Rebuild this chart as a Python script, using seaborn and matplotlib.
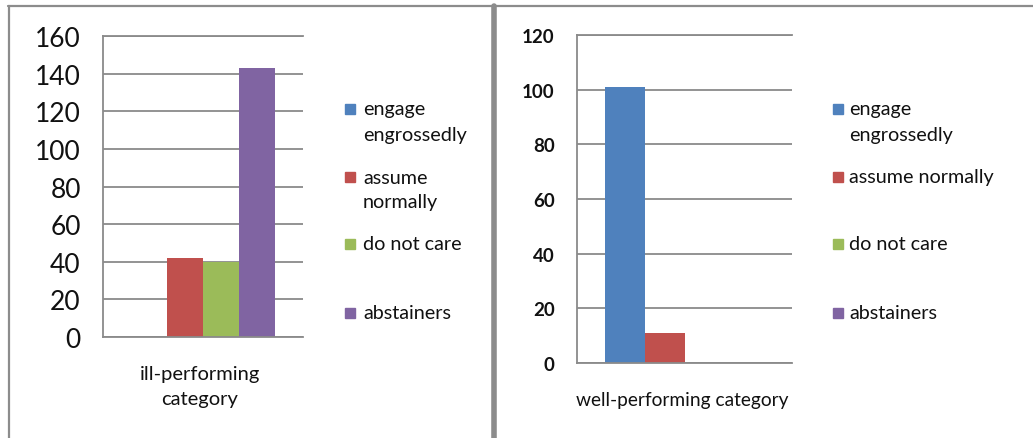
# Two Excel-style bar charts: ill-performing vs well-performing category
import pandas as pd
import matplotlib.pyplot as plt
import seaborn as sns
from matplotlib.patches import Rectangle
from matplotlib.lines import Line2D

# ==========================================================
# Data
# ==========================================================

responses = ['engage engrossedly', 'assume normally', 'do not care', 'abstainers']
colors = ['#4F81BD', '#C0504D', '#9BBB59', '#8064A2']

ill_counts = [0, 42, 40, 143]
well_counts = [101, 11, 0, 0]

ill_ticks = [0, 20, 40, 60, 80, 100, 120, 140, 160]
well_ticks = [0, 20, 40, 60, 80, 100, 120]

ill_category = ['ill-performing', 'category']
well_category = ['well-performing category']

ill_legend = [['engage', 'engrossedly'], ['assume', 'normally'], ['do not care'], ['abstainers']]
well_legend = [['engage', 'engrossedly'], ['assume normally'], ['do not care'], ['abstainers']]

# ==========================================================
# Style
# ==========================================================

sns.set_style('white')
plt.rcParams['font.family'] = ['Lato', 'DejaVu Sans']

W, H = 1033, 439
GRID = '#8a8a8a'
TEXT = '#111111'

fig = plt.figure(figsize=(W / 100, H / 100), dpi=100)


def px(x, y):
    # pixel position (from top-left) -> figure fraction
    return x / W, 1 - y / H


def axes_box(x0, y0, x1, y1):
    return [x0 / W, 1 - y1 / H, (x1 - x0) / W, (y1 - y0) / H]


def draw_panel(rect, counts, ticks, width, tick_size, tick_weight, tick_pad):
    ax = fig.add_axes(rect)
    df = pd.DataFrame({'category': ['c'] * len(responses),
                       'response': responses,
                       'count': counts})
    sns.barplot(data=df, x='category', y='count', hue='response',
                hue_order=responses, palette=colors, saturation=1,
                width=width, ax=ax, legend=False, linewidth=0)
    ax.set_xlim(-0.5, 0.5)
    ax.set_ylim(ticks[0], ticks[-1])
    ax.set_yticks(ticks)
    ax.set_xticks([-0.5, 0.5])
    ax.set_xticklabels(['', ''])
    ax.set_xlabel('')
    ax.set_ylabel('')
    ax.yaxis.grid(True, color=GRID, lw=1.3)
    ax.set_axisbelow(True)
    for side in ['left', 'bottom', 'top']:
        ax.spines[side].set_color(GRID)
        ax.spines[side].set_linewidth(1.3)
    ax.spines['right'].set_visible(False)
    ax.tick_params(axis='y', direction='out', length=6, width=1.3, color=GRID,
                   pad=tick_pad, labelsize=tick_size, labelcolor=TEXT)
    ax.tick_params(axis='x', direction='out', length=5, width=1.3, color=GRID)
    for lab in ax.get_yticklabels():
        lab.set_fontweight(tick_weight)
    return ax


def draw_legend(x_sq, x_txt, labels, size):
    rows = [110, 178, 245, 314]
    for lines, color, y in zip(labels, colors, rows):
        fx, fy = px(x_sq, y + 5)
        fig.patches.append(Rectangle((fx, fy), 10 / W, 10 / H, color=color,
                                     transform=fig.transFigure, figure=fig))
        for i, line in enumerate(lines):
            tx, ty = px(x_txt, y + i * 25)
            fig.text(tx, ty, line, ha='left', va='center', fontsize=size, color=TEXT)


# ==========================================================
# Panels
# ==========================================================

draw_panel(axes_box(103, 37, 303, 338), ill_counts, ill_ticks, 0.72, 19, 'normal', 10)
draw_panel(axes_box(577, 36, 792, 364), well_counts, well_ticks, 0.735, 13.5, 'bold', 10)

draw_legend(345, 363, ill_legend, 14.2)
draw_legend(833, 849, well_legend, 14.2)

for i, line in enumerate(ill_category):
    tx, ty = px(200, 375 + i * 25)
    fig.text(tx, ty, line, ha='center', va='center', fontsize=14.5, color=TEXT)
for line in well_category:
    tx, ty = px(682, 401)
    fig.text(tx, ty, line, ha='center', va='center', fontsize=13.8, color=TEXT)

# panel frames
frame = '#8c8c8c'
fig.add_artist(Line2D([8 / W, 1], [1 - 7 / H] * 2, color=frame, lw=1.6))
fig.add_artist(Line2D([8.5 / W] * 2, [0, 1 - 7 / H], color=frame, lw=1.6))
fig.add_artist(Line2D([494 / W] * 2, [0, 1 - 7 / H], color=frame, lw=4))

plt.savefig('out.png', dpi=100)
